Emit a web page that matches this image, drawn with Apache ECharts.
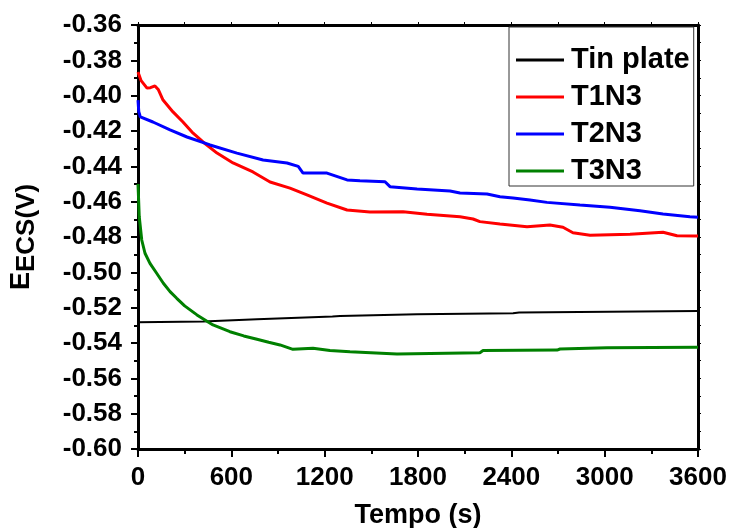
<!DOCTYPE html>
<html>
<head>
<meta charset="utf-8">
<script src="https://cdn.jsdelivr.net/npm/echarts@6/dist/echarts.min.js"></script>
<style>
  html, body { margin: 0; padding: 0; background: #fff; }
  #chart { width: 734px; height: 528px; }
</style>
</head>
<body>
<div id="chart"></div>
<script>
var FONT = '"Liberation Sans", Arial, sans-serif';

// tick settings
var yMin = -0.60, yMax = -0.36, yStep = 0.02;
var xMin = 0, xMax = 3600, xStep = 600;

var seriesNames = ['Tin plate', 'T1N3', 'T2N3', 'T3N3'];
var seriesColors = ['#000000', '#ff0000', '#0000ff', '#008000'];

// Tin plate
var tinTime = [0, 418, 430, 765, 1250, 1299, 1794, 2411, 2450, 3600];
var tinVal = [-0.5283, -0.5278, -0.5274, -0.5266, -0.5250, -0.5247, -0.5237, -0.5232, -0.5228, -0.5219];

// T1N3
var t1Time = [0, 20, 58, 80, 109, 130, 161, 225, 289, 347, 418, 508, 611, 739, 849, 977, 1086, 1215, 1344, 1491,
  1704, 1858, 2070, 2154, 2198, 2327, 2501, 2648, 2732, 2796, 2906, 3163, 3375, 3465, 3600];
var t1Val = [-0.3866, -0.3915, -0.3957, -0.3955, -0.3945, -0.3965, -0.4025, -0.4092, -0.4149, -0.4206, -0.4262,
  -0.4325, -0.4381, -0.4432, -0.4489, -0.4523, -0.4562, -0.4608, -0.4647, -0.4658, -0.4657, -0.4671, -0.4685,
  -0.4698, -0.4713, -0.4726, -0.4742, -0.4732, -0.4745, -0.4776, -0.4790, -0.4785, -0.4773, -0.4793, -0.4794];

// T2N3
var t2Time = [0, 5, 15, 96, 206, 315, 463, 636, 804, 958, 1030, 1061, 1215, 1344, 1427, 1588, 1620, 1794, 2006,
  2070, 2244, 2327, 2411, 2520, 2629, 2841, 3034, 3227, 3375, 3548, 3600];
var t2Val = [-0.4025, -0.4090, -0.4120, -0.4149, -0.4194, -0.4234, -0.4279, -0.4325, -0.4364, -0.4381, -0.4400,
  -0.4438, -0.4438, -0.4477, -0.4481, -0.4487, -0.4515, -0.4528, -0.4540, -0.4551, -0.4557, -0.4572, -0.4579,
  -0.4591, -0.4604, -0.4619, -0.4632, -0.4651, -0.4670, -0.4685, -0.4688];

// T3N3
var t3Time = [0, 2, 8, 24, 45, 77, 120, 163, 206, 249, 300, 379, 482, 591, 680, 765, 840, 913, 996, 1125, 1234,
  1363, 1665, 2198, 2218, 2694, 2713, 3015, 3600];
var t3Val = [-0.4500, -0.4543, -0.4685, -0.4817, -0.4892, -0.4949, -0.5005, -0.5062, -0.5109, -0.5147, -0.5190,
  -0.5241, -0.5298, -0.5336, -0.5360, -0.5379, -0.5396, -0.5411, -0.5436, -0.5430, -0.5443, -0.5449, -0.5462,
  -0.5455, -0.5443, -0.5440, -0.5434, -0.5427, -0.5424];

function pairs(ts, vs) {
  return ts.map(function (t, i) { return [t, vs[i]]; });
}

var allData = [pairs(tinTime, tinVal), pairs(t1Time, t1Val), pairs(t2Time, t2Val), pairs(t3Time, t3Val)];
var widths = [2, 3, 3, 3];

var chart = echarts.init(document.getElementById('chart'));

var axisLineStyle = { color: '#000', width: 3 };

var option = {
  animation: false,
  backgroundColor: '#fff',
  textStyle: { fontFamily: FONT },
  grid: { left: 138, right: 36, top: 25, bottom: 79, containLabel: false, outerBoundsMode: 'none' },
  legend: {
    orient: 'vertical',
    left: 509,
    top: 27,
    padding: [18, 4, 0, 7],
    icon: 'rect',
    itemWidth: 48,
    itemHeight: 3,
    itemGap: 7,
    backgroundColor: '#fff',
    borderColor: '#333',
    borderWidth: 1,
    borderRadius: 0,
    data: seriesNames,
    textStyle: { fontFamily: FONT, fontSize: 29, fontWeight: 'bold', color: '#000', lineHeight: 30, padding: [0, 0, 0, 2] }
  },
  xAxis: [{
    type: 'value',
    min: xMin, max: xMax, interval: xStep,
    name: 'Tempo (s)',
    nameLocation: 'middle',
    nameGap: 53,
    nameTextStyle: { fontFamily: FONT, fontSize: 27, fontWeight: 'bold', color: '#000' },
    axisLine: { show: true, onZero: false, lineStyle: axisLineStyle },
    axisTick: { show: true, inside: false, length: 8, lineStyle: { color: '#000', width: 2 } },
    minorTick: { show: true, splitNumber: 2, length: 5, lineStyle: { color: '#000', width: 2 } },
    axisLabel: {
      fontFamily: FONT, fontSize: 26, fontWeight: 'bold', color: '#000', margin: 16,
      formatter: function (v) { return String(v); }
    },
    splitLine: { show: false }
  }, {
    type: 'value',
    position: 'top',
    min: xMin, max: xMax, interval: xStep,
    axisLine: { show: true, onZero: false, lineStyle: axisLineStyle },
    axisTick: { show: true, inside: false, length: 3, lineStyle: { color: '#000', width: 1 } },
    minorTick: { show: true, splitNumber: 2, length: 3, lineStyle: { color: '#000', width: 1 } },
    axisLabel: { show: false },
    splitLine: { show: false }
  }],
  yAxis: [{
    type: 'value',
    min: yMin, max: yMax, interval: yStep,
    name: '{b|E}{s|ECS(V)}',
    nameLocation: 'middle',
    nameGap: 98,
    nameRotate: 90,
    nameTextStyle: {
      fontFamily: FONT, fontWeight: 'bold', color: '#000',
      rich: {
        b: { fontFamily: FONT, fontSize: 27, fontWeight: 'bold', color: '#000' },
        s: { fontFamily: FONT, fontSize: 26, fontWeight: 'bold', color: '#000', padding: [10, 0, 0, 0] }
      }
    },
    axisLine: { show: true, onZero: false, lineStyle: axisLineStyle },
    axisTick: { show: true, inside: false, length: 7, lineStyle: { color: '#000', width: 2 } },
    minorTick: { show: true, splitNumber: 2, length: 4, lineStyle: { color: '#000', width: 2 } },
    axisLabel: {
      fontFamily: FONT, fontSize: 26, fontWeight: 'bold', color: '#000', margin: 16,
      formatter: function (v) { return v.toFixed(2); }
    },
    splitLine: { show: false }
  }, {
    type: 'value',
    position: 'right',
    min: yMin, max: yMax, interval: yStep,
    axisLine: { show: true, onZero: false, lineStyle: axisLineStyle },
    axisTick: { show: true, inside: false, length: 3, lineStyle: { color: '#000', width: 1 } },
    minorTick: { show: true, splitNumber: 2, length: 3, lineStyle: { color: '#000', width: 1 } },
    axisLabel: { show: false },
    splitLine: { show: false }
  }],
  series: seriesNames.map(function (name, i) {
    return {
      name: name,
      type: 'line',
      xAxisIndex: 0,
      yAxisIndex: 0,
      data: allData[i],
      symbol: 'none',
      color: seriesColors[i],
      lineStyle: { color: seriesColors[i], width: widths[i] },
      z: 2 + i
    };
  })
};

chart.setOption(option);
window.addEventListener('resize', function () { chart.resize(); });
</script>
</body>
</html>
